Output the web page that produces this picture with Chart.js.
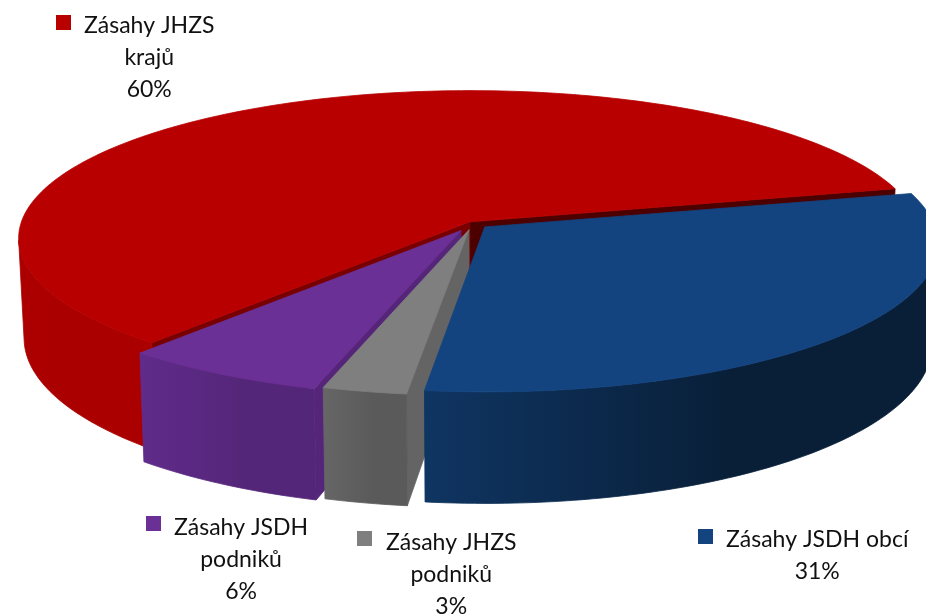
<!DOCTYPE html>
<html lang="cs">
<head>
    <meta charset="UTF-8">
    <title>Zásahy</title>
    <script src="https://cdn.jsdelivr.net/npm/chart.js"></script>
    <style>
        body { margin: 0; background: white; overflow: hidden; }
        canvas { display: block; }
    </style>
</head>
<body>
    <canvas id="pieChart" width="926" height="615"></canvas>

    <script>
        // data
        const categories = ['Zásahy JHZS krajů', 'Zásahy JSDH obcí', 'Zásahy JHZS podniků', 'Zásahy JSDH podniků'];
        const shares = [60, 30.7, 2.7, 6.6];

        // exploded slices, in chart pixels
        const sliceOffsets = [4, 10.5, 13, 16.5];
        const topColors = ['#B80000', '#134480', '#7F7F7F', '#6B3096'];
        const wallFrom = ['#AA0000', '#091F38', '#5A5A5A', '#542679'];
        const wallTo = ['#AC0000', '#0F3562', '#666666', '#602B8A'];
        const startWallColors = ['#780000', null, '#646464', '#55257A'];
        const endWallColors = ['#4C0000', null, null, null];
        const paintOrder = [0, 3, 2, 1];

        // text boxes around the pie: line rows and where they sit
        const labelLines = [
            ['Zásahy JHZS', 'krajů', '60%'],
            ['Zásahy JSDH obcí', '31%'],
            ['Zásahy JHZS', 'podniků', '3%'],
            ['Zásahy JSDH', 'podniků', '6%']
        ];
        const labelBoxes = [
            { x: 84, y: 33, keyX: 56, keyY: 15 },
            { x: 726, y: 547, keyX: 698, keyY: 529 },
            { x: 386, y: 550, keyX: 357, keyY: 531 },
            { x: 174, y: 535, keyX: 146, keyY: 516 }
        ];

        // tilted view of the flat pie
        const view = { cx: 473, cy: 223.5, rx: 449, ry: 146, tilt: 0.11, depth: 99, shrink: 0.988 };

        function project(u, v, level) {
            const w = 1 / (1 - view.tilt * v);
            const s = level ? view.shrink : 1;
            return [view.cx + view.rx * u * w * s, view.cy + view.ry * v * w + level * view.depth * w];
        }

        function fillPoly(ctx, pts, color) {
            ctx.beginPath();
            pts.forEach((p, i) => i ? ctx.lineTo(p[0], p[1]) : ctx.moveTo(p[0], p[1]));
            ctx.closePath();
            ctx.fillStyle = color;
            ctx.strokeStyle = color; // closes the hairline seams between faces
            ctx.lineWidth = 0.8;
            ctx.fill();
            ctx.stroke();
        }

        const pie3d = {
            id: 'pie3d',
            beforeDatasetsDraw(chart) {
                const ctx = chart.ctx;
                const arcs = chart.getDatasetMeta(0).data;

                paintOrder.forEach(i => {
                    const arc = arcs[i];
                    const mid = (arc.startAngle + arc.endAngle) / 2;
                    const off = arc.options.offset / arc.outerRadius;
                    const ou = off * Math.cos(mid);
                    const ov = off * Math.sin(mid);
                    const steps = Math.ceil((arc.endAngle - arc.startAngle) / 0.02);
                    const rim = [];
                    const front = [];
                    for (let s = 0; s <= steps; s++) {
                        const a = arc.startAngle + (arc.endAngle - arc.startAngle) * s / steps;
                        const p = [ou + Math.cos(a), ov + Math.sin(a)];
                        rim.push(p);
                        // only the rim in front of the silhouette points gets a wall
                        if (Math.sin(a) > view.tilt) front.push(p);
                    }
                    const first = rim[0];
                    const last = rim[rim.length - 1];

                    if (endWallColors[i]) {
                        fillPoly(ctx, [project(ou, ov, 0), project(last[0], last[1], 0), project(last[0], last[1], 1), project(ou, ov, 1)], endWallColors[i]);
                    }
                    if (startWallColors[i]) {
                        fillPoly(ctx, [project(ou, ov, 0), project(first[0], first[1], 0), project(first[0], first[1], 1), project(ou, ov, 1)], startWallColors[i]);
                    }

                    // outer wall, one shape with a sideways shade
                    const x0 = project(front[0][0], front[0][1], 0)[0];
                    const x1 = project(front[front.length - 1][0], front[front.length - 1][1], 0)[0];
                    const shade = ctx.createLinearGradient(x0, 0, x1, 0);
                    shade.addColorStop(0, wallFrom[i]);
                    shade.addColorStop(0.4, wallFrom[i]);
                    shade.addColorStop(1, wallTo[i]);
                    const wall = front.map(p => project(p[0], p[1], 0))
                        .concat(front.slice().reverse().map(p => project(p[0], p[1], 1)));
                    fillPoly(ctx, wall, shade);

                    fillPoly(ctx, [project(ou, ov, 0)].concat(rim.map(p => project(p[0], p[1], 0))), arc.options.backgroundColor);
                });
                return false;
            },
            afterDraw(chart) {
                const ctx = chart.ctx;
                ctx.save();
                ctx.font = '23px Lato, sans-serif';
                labelLines.forEach((lines, i) => {
                    const box = labelBoxes[i];
                    ctx.fillStyle = topColors[i];
                    ctx.fillRect(box.keyX, box.keyY, 15, 15);
                    ctx.fillStyle = '#111111';
                    const center = box.x + ctx.measureText(lines[0]).width / 2;
                    lines.forEach((line, n) => {
                        ctx.textAlign = n ? 'center' : 'left';
                        ctx.fillText(line, n ? center : box.x, box.y + n * 32);
                    });
                });
                ctx.restore();
            }
        };

        new Chart(document.getElementById('pieChart').getContext('2d'), {
            type: 'pie',
            data: {
                labels: categories,
                datasets: [{
                    data: shares,
                    backgroundColor: topColors,
                    offset: sliceOffsets,
                    borderWidth: 0
                }]
            },
            options: {
                responsive: false,
                animation: false,
                rotation: 220.5,
                layout: { padding: 0 },
                plugins: { legend: { display: false }, tooltip: { enabled: false } }
            },
            plugins: [pie3d]
        });
    </script>
</body>
</html>
